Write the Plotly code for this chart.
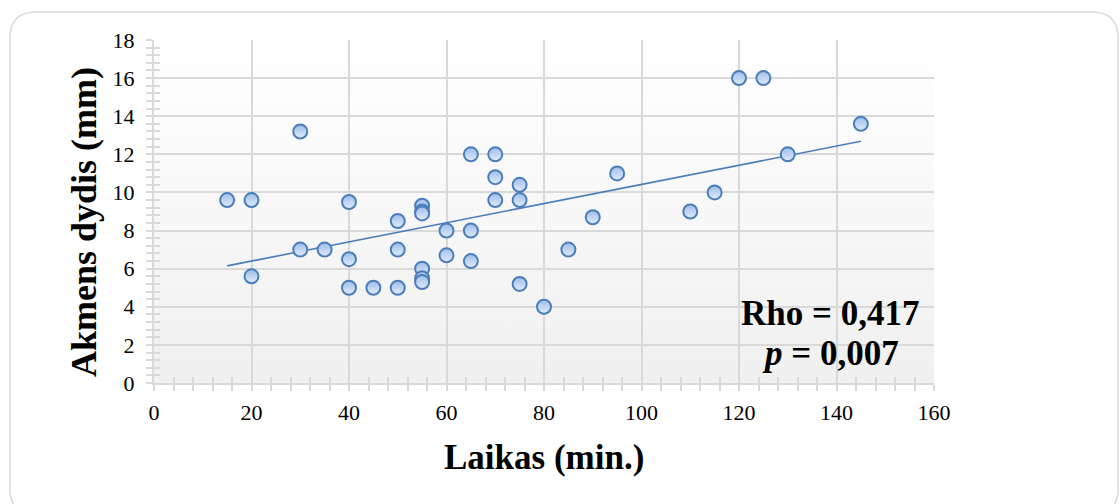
import base64
import numpy as np
import plotly.graph_objects as go

# ---- data ----
laikas = [15, 20, 20, 30, 30, 35, 40, 40, 40, 45, 50, 50, 50,
          55, 55, 55, 55, 55, 55, 60, 60, 65, 65, 65, 70, 70, 70,
          75, 75, 75, 80, 85, 90, 95, 110, 115, 120, 125, 130, 145]
dydis = [9.6, 9.6, 5.6, 13.2, 7.0, 7.0, 9.5, 6.5, 5.0, 5.0, 8.5, 7.0, 5.0,
         9.3, 9.0, 8.9, 6.0, 5.5, 5.3, 8.0, 6.7, 12.0, 8.0, 6.4, 12.0, 10.8, 9.6,
         10.4, 9.6, 5.2, 4.0, 7.0, 8.7, 11.0, 9.0, 10.0, 16.0, 16.0, 12.0, 13.6]
x_ticks = [0, 20, 40, 60, 80, 100, 120, 140, 160]
y_ticks = [0, 2, 4, 6, 8, 10, 12, 14, 16, 18]
X_RANGE = [0, 160]
Y_RANGE = [0, 18]
stats_lines = ["<b>Rho = 0,417</b>", "<b><i>p</i> = 0,007</b>"]

# ---- layout geometry ----
W, H = 1120, 504
ML, MR, MT, MB = 154, 186, 40, 121
PW, PH = W - ML - MR, H - MT - MB
PB = H - MB

def fx(px):
    return (px - ML) / PW

def fy(py):
    return (PB - py) / PH

FONT = "Liberation Serif, Times New Roman, serif"
GRID = "#d9d9d9"
BLUE = "#4a7ebb"

fig = go.Figure()

# trend line (least squares from data)
slope, intercept = np.polyfit(laikas, dydis, 1)
tx = np.array([min(laikas), max(laikas)])
fig.add_trace(go.Scatter(
    x=tx, y=slope * tx + intercept, mode="lines",
    line=dict(color=BLUE, width=1.6), hoverinfo="skip", showlegend=False,
))

# points
fig.add_trace(go.Scatter(
    x=laikas, y=dydis, mode="markers",
    marker=dict(size=14, color="#9dbce9",
                gradient=dict(type="vertical", color="#e2ecfb"),
                line=dict(color=BLUE, width=2)),
    showlegend=False,
))

# dummy trace on overlaying axes (for crossing ticks)
fig.add_trace(go.Scatter(x=[None], y=[None], xaxis="x2", yaxis="y2",
                         showlegend=False, hoverinfo="skip"))

axis_common = dict(showline=True, linecolor=GRID, linewidth=2,
                   showgrid=True, gridcolor=GRID, gridwidth=2,
                   zeroline=False, ticks="outside", tickcolor=GRID,
                   tickwidth=1.5, ticklen=6,
                   tickfont=dict(family=FONT, size=22, color="black"))

fig.update_layout(
    width=W, height=H,
    margin=dict(l=ML, r=MR, t=MT, b=MB),
    paper_bgcolor="white", plot_bgcolor="rgba(0,0,0,0)",
    xaxis=dict(range=X_RANGE, tickvals=x_ticks, ticklabelstandoff=3,
               minor=dict(dtick=4, ticks="outside", ticklen=6,
                          tickcolor=GRID, tickwidth=1.5, showgrid=False),
               **axis_common),
    yaxis=dict(range=Y_RANGE, tickvals=y_ticks, ticklabelstandoff=7,
               minor=dict(dtick=0.4, ticks="outside", ticklen=6,
                          tickcolor=GRID, tickwidth=1.5, showgrid=False),
               **axis_common),
    xaxis2=dict(range=X_RANGE, overlaying="x", side="bottom", anchor="y",
                showgrid=False, zeroline=False, showticklabels=False,
                ticks="inside", tickvals=x_ticks, ticklen=6, tickcolor=GRID,
                tickwidth=1.5,
                minor=dict(dtick=4, ticks="inside", ticklen=6,
                           tickcolor=GRID, tickwidth=1.5, showgrid=False)),
    yaxis2=dict(range=Y_RANGE, overlaying="y", side="left", anchor="x",
                showgrid=False, zeroline=False, showticklabels=False,
                ticks="inside", tickvals=y_ticks, ticklen=6, tickcolor=GRID,
                tickwidth=1.5,
                minor=dict(dtick=0.4, ticks="inside", ticklen=6,
                           tickcolor=GRID, tickwidth=1.5, showgrid=False)),
    showlegend=False,
)

# plot-area gradient background (image below grid)
svg = ('<svg xmlns="http://www.w3.org/2000/svg" width="100" height="100" '
       'preserveAspectRatio="none">'
       '<defs><linearGradient id="g" x1="0" y1="0" x2="0" y2="1">'
       '<stop offset="0" stop-color="#ffffff"/>'
       '<stop offset="1" stop-color="#f0f0f0"/></linearGradient></defs>'
       '<rect width="100" height="100" fill="url(#g)"/></svg>')
src = "data:image/svg+xml;base64," + base64.b64encode(svg.encode()).decode()
fig.add_layout_image(source=src, xref="paper", yref="paper", x=0, y=1,
                     sizex=1, sizey=1, xanchor="left", yanchor="top",
                     sizing="stretch", layer="below")

# axis titles
fig.add_annotation(text="<b>Laikas (min.)</b>", xref="paper", yref="paper",
                   x=0.5, y=fy(457), xanchor="center", yanchor="middle",
                   showarrow=False,
                   font=dict(family=FONT, size=35, color="black"))
fig.add_annotation(text="<b>Akmens dydis (mm)</b>", xref="paper", yref="paper",
                   x=fx(84), y=fy(222), xanchor="center", yanchor="middle",
                   textangle=-90, showarrow=False,
                   font=dict(family=FONT, size=36, color="black"))

# stats text
fig.add_annotation(text=stats_lines[0], xref="paper", yref="paper",
                   x=fx(830), y=fy(313), xanchor="center", yanchor="middle",
                   showarrow=False, font=dict(family=FONT, size=35, color="black"))
fig.add_annotation(text=stats_lines[1], xref="paper", yref="paper",
                   x=fx(830), y=fy(353), xanchor="center", yanchor="middle",
                   showarrow=False, font=dict(family=FONT, size=35, color="black"))

# outer rounded border
x0, y0, x1, y1, r = 10, 12, 1118, 515, 26
path = (f"M {fx(x0 + r)},{fy(y0)} L {fx(x1 - r)},{fy(y0)} "
        f"Q {fx(x1)},{fy(y0)} {fx(x1)},{fy(y0 + r)} "
        f"L {fx(x1)},{fy(y1 - r)} Q {fx(x1)},{fy(y1)} {fx(x1 - r)},{fy(y1)} "
        f"L {fx(x0 + r)},{fy(y1)} Q {fx(x0)},{fy(y1)} {fx(x0)},{fy(y1 - r)} "
        f"L {fx(x0)},{fy(y0 + r)} Q {fx(x0)},{fy(y0)} {fx(x0 + r)},{fy(y0)} Z")
fig.add_shape(type="path", path=path, xref="paper", yref="paper",
              line=dict(color="#d9d9d9", width=1.5), layer="below")

fig.write_html("out.html")
